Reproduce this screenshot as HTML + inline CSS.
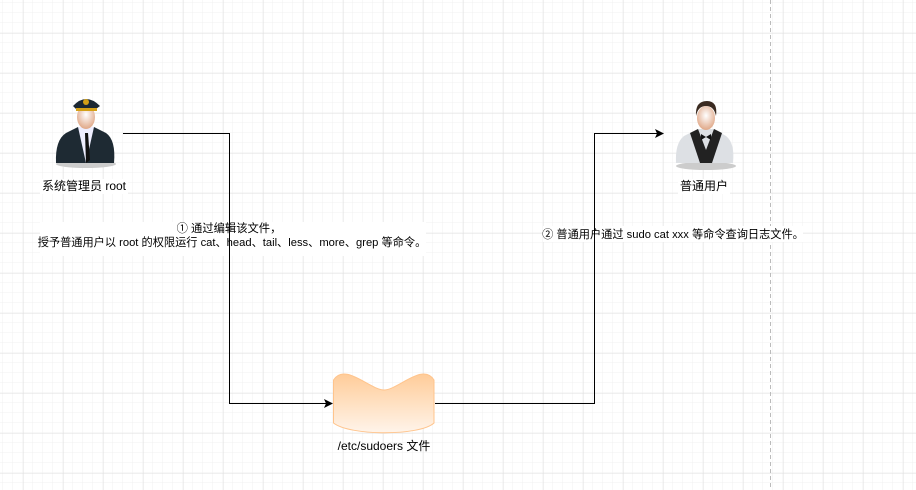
<!DOCTYPE html>
<html><head><meta charset="utf-8"><style>
html,body{margin:0;padding:0;background:#fff;}
body{width:916px;height:490px;overflow:hidden;position:relative;font-family:"Liberation Sans","Noto Sans CJK SC",sans-serif;}
</style></head><body>
<svg width="916" height="490" viewBox="0 0 916 490" xmlns="http://www.w3.org/2000/svg" style="position:absolute;left:0;top:0">
<defs>
<pattern id="minor" width="10" height="10" patternUnits="userSpaceOnUse" x="3" y="3">
<path d="M10 0V10M0 10H10" fill="none" stroke="#f0f0f0" stroke-width="1"/>
</pattern>
<pattern id="major" width="40" height="40" patternUnits="userSpaceOnUse" x="23.5" y="33.5">
<path d="M0 0V40M0 0H40" fill="none" stroke="#e0e0e0" stroke-width="1"/>
</pattern>
<linearGradient id="tape" x1="0" y1="0" x2="0" y2="1">
<stop offset="0" stop-color="#ffcc99"/><stop offset="1" stop-color="#fff4ea"/>
</linearGradient>
<radialGradient id="face" cx="0.5" cy="0.4" r="0.6"><stop offset="0" stop-color="#fff"/><stop offset="1" stop-color="#e0a888"/></radialGradient>
</defs>
<rect width="916" height="490" fill="url(#minor)"/>
<rect width="916" height="490" fill="url(#major)"/>
<line x1="770.5" y1="0" x2="770.5" y2="490" stroke="#bbb" stroke-dasharray="4 3"/>

<!-- admin icon -->
<ellipse cx="86" cy="164" rx="30" ry="4" fill="#ccc"/>
<path d="M56 163 Q55 140 66 133 L78 127 L94 127 L106 133 Q116 140 114 163 Z" fill="#1e2a33"/>
<path d="M78 127 L86 163 L94 127 Z" fill="#eef"/>
<path d="M85 133 L88 133 L90 160 L86 163 Z" fill="#111"/>
<ellipse cx="86" cy="117" rx="9" ry="12" fill="url(#face)"/>
<path d="M73 106 Q86 92 100 106 L96 109 L76 109 Z" fill="#1c2833"/>
<rect x="76" y="108" width="21" height="3" fill="#d4a017"/>
<circle cx="86" cy="102" r="3" fill="#d4a017"/>

<!-- user icon -->
<ellipse cx="706" cy="166" rx="30" ry="4" fill="#ccc"/>
<path d="M676 163 Q675 143 684 136 L698 129 L714 129 L726 136 Q735 143 733 163 Z" fill="#dde0e4"/>
<path d="M690 133 L700 163 L712 163 L722 133 L714 129 L706 150 L698 129 Z" fill="#222"/>
<path d="M701 134 L706 137 L711 134 L711 140 L706 137 L701 140 Z" fill="#111"/>
<ellipse cx="706" cy="118" rx="9" ry="12" fill="url(#face)"/>
<path d="M696 116 Q695 101 707 101 Q718 101 716 116 Q714 106 706 106 Q698 106 696 116Z" fill="#3a2a20"/>

<!-- connectors -->
<path d="M123 133.5 H229.5 V403.5 H326" fill="none" stroke="#000" stroke-width="1"/>
<path d="M333 403.5 L324 399 L326 403.5 L324 408 Z" fill="#000"/>
<path d="M435 403.5 H594.5 V133.5 H657" fill="none" stroke="#000" stroke-width="1"/>
<path d="M664 133.5 L655 129 L657 133.5 L655 138 Z" fill="#000"/>

<!-- tape -->
<path d="M333.5 380 C345 362 370 390 384 390 S423 362 434 380 V423 C420 436 350 436 333.5 423 Z" fill="url(#tape)" stroke="#ffc48c" stroke-width="1"/>

<!-- labels -->
<rect x="40" y="179" width="88" height="15" fill="#fff"/>
<text x="84" y="190" font-size="12" text-anchor="middle" fill="#000">系统管理员 root</text>
<rect x="678" y="179" width="52" height="15" fill="#fff"/>
<text x="704" y="190" font-size="12" text-anchor="middle" fill="#000">普通用户</text>
<text x="384" y="450" font-size="12" text-anchor="middle" fill="#000">/etc/sudoers 文件</text>

<rect x="40" y="222" width="386" height="34" fill="#fff"/>
<text x="229" y="232" font-size="11.3" text-anchor="middle" fill="#000">① 通过编辑该文件，</text>
<text x="232" y="246" font-size="11.2" text-anchor="middle" fill="#000">授予普通用户以 root 的权限运行 cat、head、tail、less、more、grep 等命令。</text>
<line x1="229.5" y1="222" x2="229.5" y2="256" stroke="#000"/>

<rect x="543" y="226" width="260" height="16" fill="#fff"/>
<text x="673" y="238" font-size="11.2" text-anchor="middle" fill="#000">② 普通用户通过 sudo cat xxx 等命令查询日志文件。</text>
<line x1="594.5" y1="226" x2="594.5" y2="242" stroke="#000"/>
</svg>
</body></html>
